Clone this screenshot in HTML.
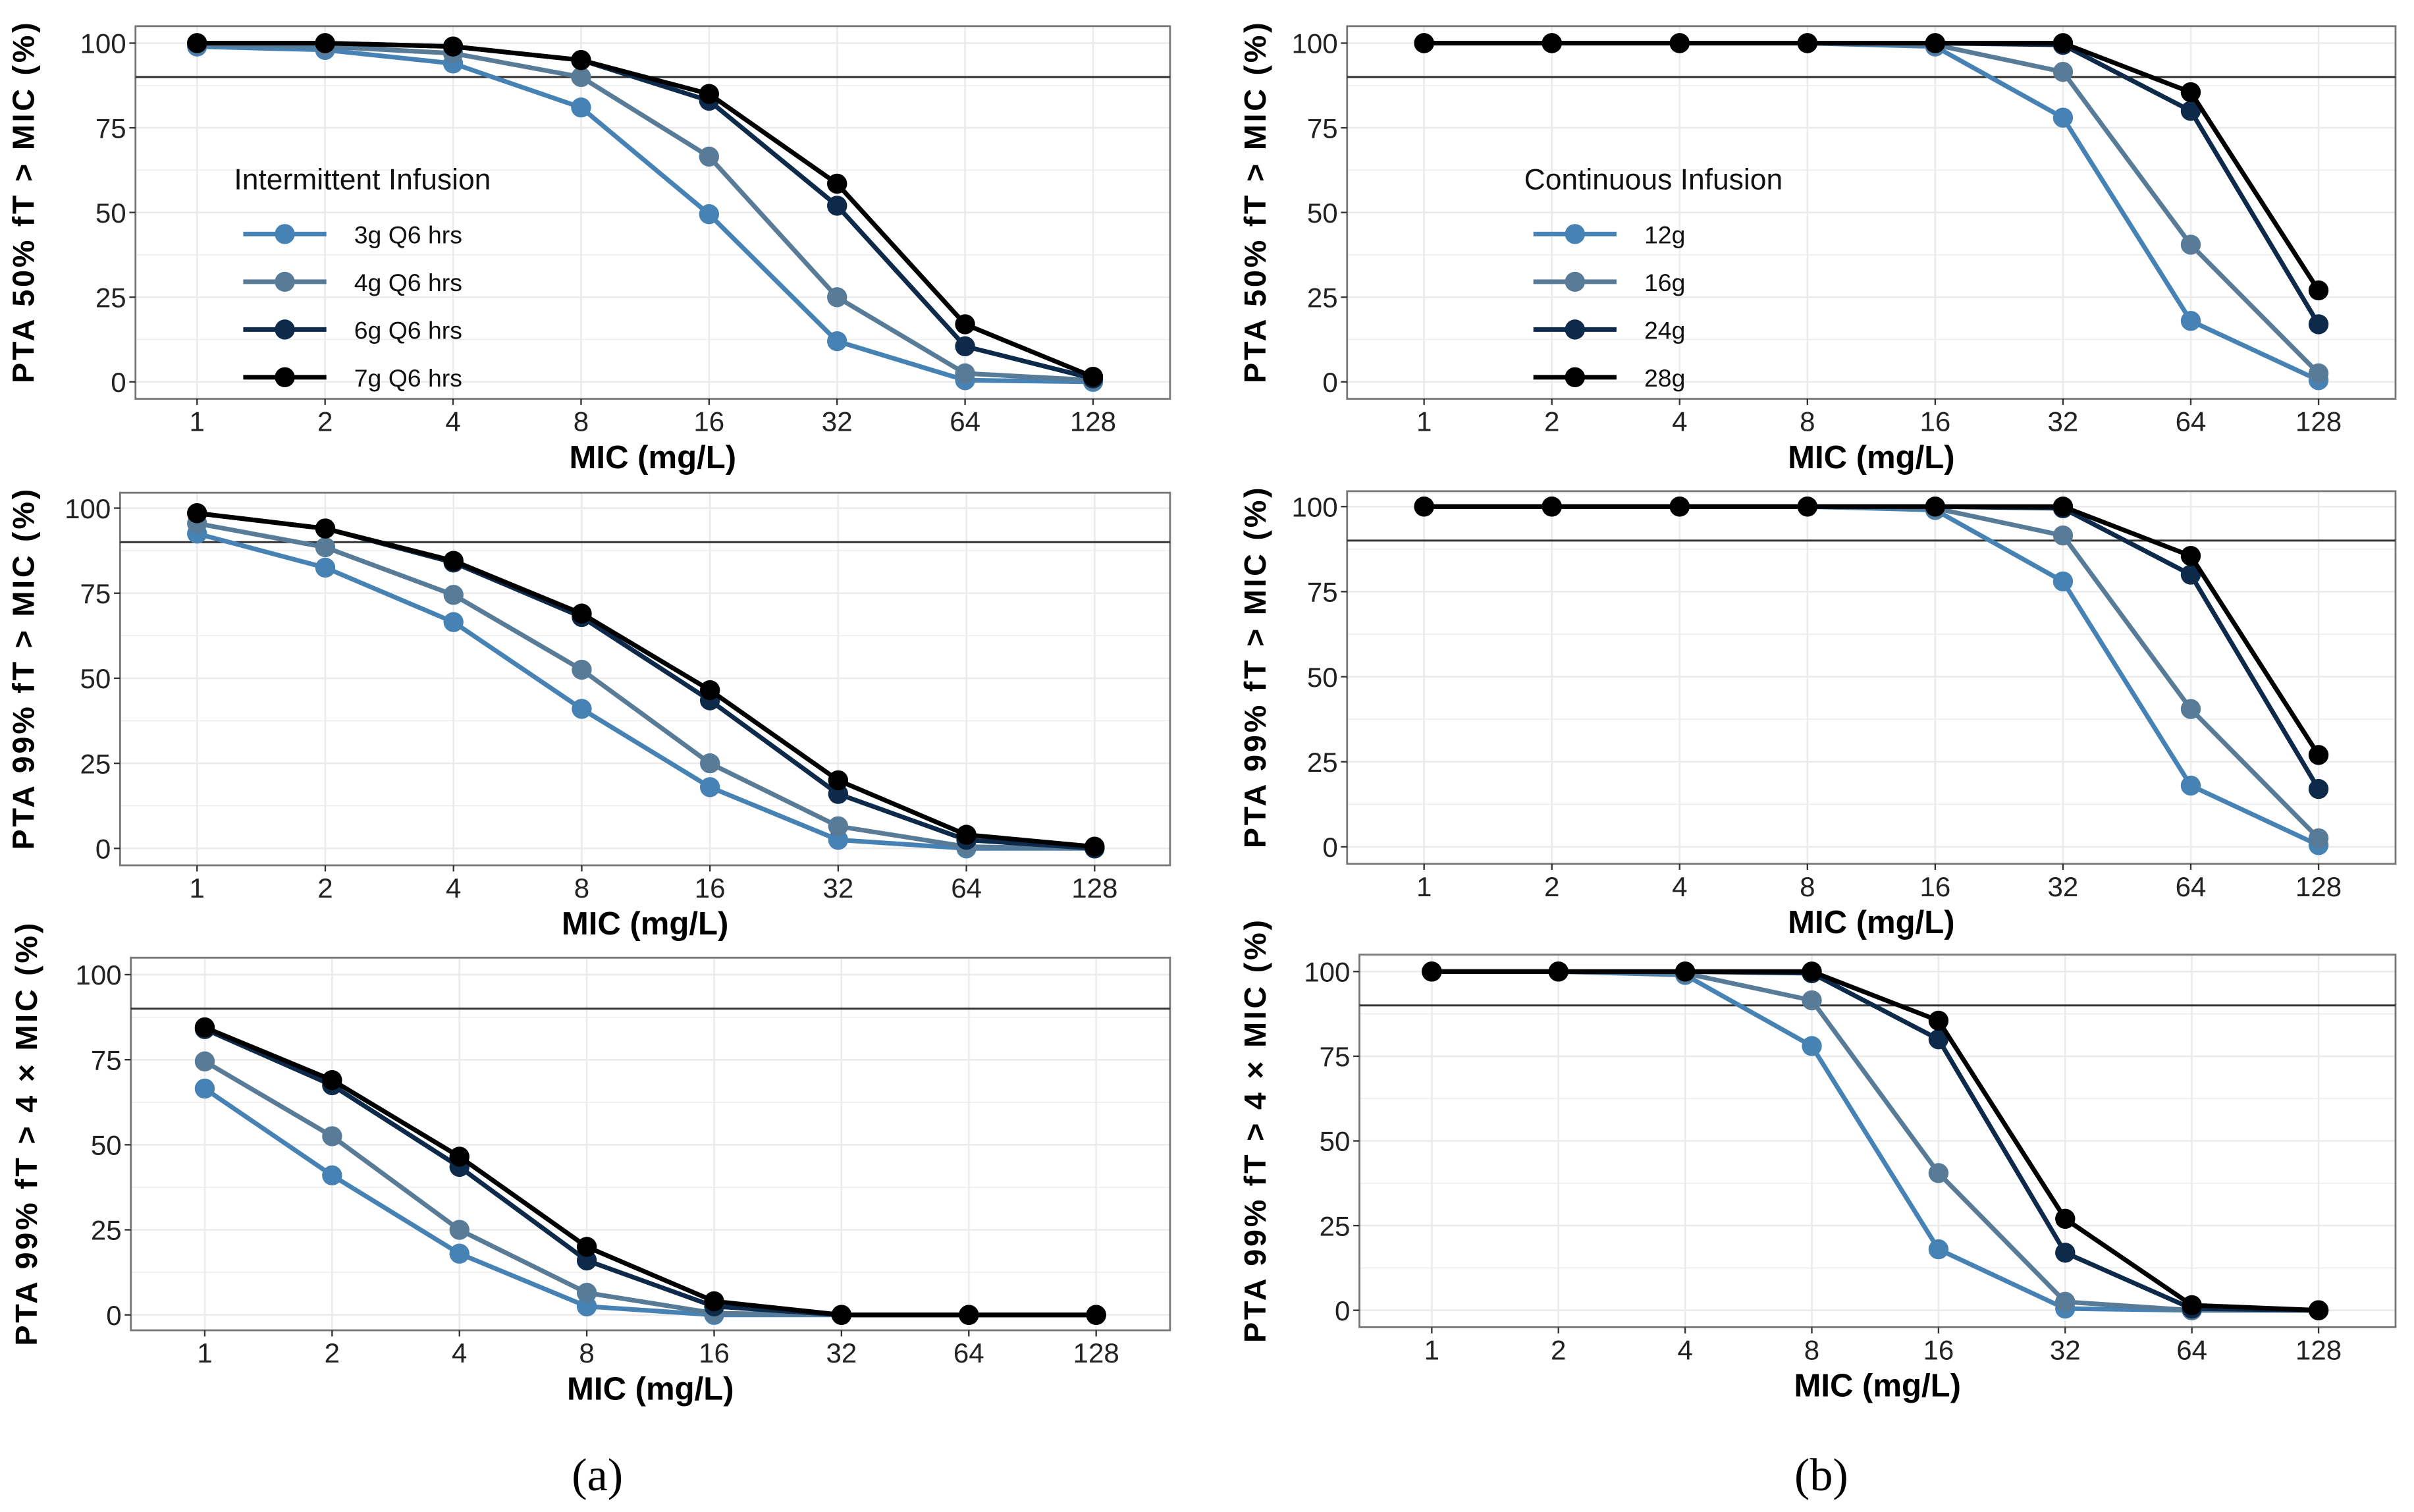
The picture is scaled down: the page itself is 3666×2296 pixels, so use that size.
<!DOCTYPE html>
<html><head><meta charset="utf-8"><style>
html,body{margin:0;padding:0;background:#fff;}
svg{display:block;}
text{font-family:"Liberation Sans",sans-serif;}
text.serif{font-family:"Liberation Serif",serif;}
</style></head><body>
<svg id="fig" width="3666" height="2296" viewBox="0 0 1568 982" xmlns="http://www.w3.org/2000/svg"></svg>
<script>
const micLabels = ["1","2","4","8","16","32","64","128"];
const yTicks = [0,25,50,75,100];
const intermittentNames = ["3g Q6 hrs","4g Q6 hrs","6g Q6 hrs","7g Q6 hrs"];
const continuousNames = ["12g","16g","24g","28g"];
const seriesColors = ["#4682b4","#587b98","#0e2a4a","#000000"];
const targetLine = 90;
// Panel (a) data
const a50_3g = [99,98,94,81,49.5,12,0.5,0];
const a50_4g = [99.5,99,97,90,66.5,25,2.5,0.5];
const a50_6g = [100,100,99,95,83,52,10.5,1];
const a50_7g = [100,100,99,95,85,58.5,17,1.5];
const a99_3g = [92.5,82.5,66.5,41,18,2.5,0,0];
const a99_4g = [95.5,88.5,74.5,52.5,25,6.5,0.5,0];
const a99_6g = [98.5,94,84,68,43.5,16,2.5,0];
const a99_7g = [98.5,94,84.5,69,46.5,20,4,0.5];
const a4x_3g = [66.5,41,18,2.5,0,0,0,0];
const a4x_4g = [74.5,52.5,25,6.5,0.5,0,0,0];
const a4x_6g = [84,67.5,43.5,16,2.5,0,0,0];
const a4x_7g = [84.5,69,46.5,20,4,0,0,0];
// Panel (b) data
const b50_12 = [100,100,100,100,99,78,18,0.5];
const b50_16 = [100,100,100,100,99.5,91.5,40.5,2.5];
const b50_24 = [100,100,100,100,100,99.5,80,17];
const b50_28 = [100,100,100,100,100,100,85.5,27];
const b99_12 = [100,100,100,100,99,78,18,0.5];
const b99_16 = [100,100,100,100,99.5,91.5,40.5,2.5];
const b99_24 = [100,100,100,100,100,99.5,80,17];
const b99_28 = [100,100,100,100,100,100,85.5,27];
const b4x_12 = [100,100,99,78,18,0.5,0,0];
const b4x_16 = [100,100,99.5,91.5,40.5,2.5,0,0];
const b4x_24 = [100,100,100,99.5,80,17,0.5,0];
const b4x_28 = [100,100,100,100,85.5,27,1.5,0];

const NS="http://www.w3.org/2000/svg";
const svg=document.getElementById('fig');
function el(tag,attrs,parent,txt){const e=document.createElementNS(NS,tag);for(const k in attrs)e.setAttribute(k,attrs[k]);if(txt!==undefined)e.textContent=txt;(parent||svg).appendChild(e);return e;}

const panels=[
 {id:'a-50',L:88,R:760,T:17,B:259,x1:128,x128:710,y100:28,y0:248,ytx:22,title:"PTA 50% fT > MIC (%)",series:[a50_3g,a50_4g,a50_6g,a50_7g],names:intermittentNames,legend:{x:152,title:"Intermittent Infusion"}},
 {id:'a-99',L:78,R:760,T:320,B:562,x1:128,x128:711,y100:330,y0:551,ytx:22,title:"PTA 99% fT > MIC (%)",series:[a99_3g,a99_4g,a99_6g,a99_7g],names:intermittentNames},
 {id:'a-4x',L:85,R:760,T:622,B:864,x1:133,x128:712,y100:633,y0:854,ytx:24,title:"PTA 99% fT > 4 × MIC (%)",series:[a4x_3g,a4x_4g,a4x_6g,a4x_7g],names:intermittentNames},
 {id:'b-50',L:875,R:1556,T:17,B:259,x1:925,x128:1506,y100:28,y0:248,ytx:822,title:"PTA 50% fT > MIC (%)",series:[b50_12,b50_16,b50_24,b50_28],names:continuousNames,legend:{x:990,title:"Continuous Infusion"}},
 {id:'b-99',L:875,R:1556,T:319,B:561,x1:925,x128:1506,y100:329,y0:550,ytx:822,title:"PTA 99% fT > MIC (%)",series:[b99_12,b99_16,b99_24,b99_28],names:continuousNames},
 {id:'b-4x',L:883,R:1556,T:620,B:862,x1:930,x128:1506,y100:631,y0:851,ytx:822,title:"PTA 99% fT > 4 × MIC (%)",series:[b4x_12,b4x_16,b4x_24,b4x_28],names:continuousNames}
];

panels.forEach(p=>{
 const g=el('g',{});
 
 
 const xs=i=>p.x1+(p.x128-p.x1)*i/(micLabels.length-1);
 const ys=v=>p.y0+(p.y100-p.y0)*v/100;
 const grid=el('g',{},g);
 
 
 for(let v=-12.5;v<=112.5;v+=12.5){const y=ys(v);if(y>p.T&&y<p.B)el('line',{x1:p.L,x2:p.R,y1:y,y2:y,stroke:'#ebebeb','stroke-width':v%25===0?1.1:0.6},grid);}
 micLabels.forEach((m,i)=>{const x=xs(i);el('line',{x1:x,x2:x,y1:p.T,y2:p.B,stroke:'#ebebeb','stroke-width':1.1},grid);});
 const fr=el('rect',{x:p.L,y:p.T,width:p.R-p.L,height:p.B-p.T,fill:'none',stroke:'#777','stroke-width':1.2},g);
 
 
 const rl=el('line',{x1:p.L,x2:p.R,y1:ys(targetLine),y2:ys(targetLine),stroke:'#333','stroke-width':1.3},g);
 
 
 yTicks.forEach(v=>{const y=ys(v);
  el('line',{x1:p.L-4,x2:p.L,y1:y,y2:y,stroke:'#333','stroke-width':1},g);
  const t=el('text',{x:p.L-6,y:y+6.5,'text-anchor':'end','font-size':18,fill:'#222'},g,String(v));
  
  
 });
 micLabels.forEach((m,i)=>{const x=xs(i);
  el('line',{x1:x,x2:x,y1:p.B,y2:p.B+4,stroke:'#333','stroke-width':1},g);
  const t=el('text',{x:x,y:p.B+21,'text-anchor':'middle','font-size':18,fill:'#222'},g,m);
  
  
 });
 const xt=el('text',{x:(p.L+p.R)/2,y:p.B+45,'text-anchor':'middle','font-size':21,'font-weight':'bold',fill:'#000'},g,"MIC (mg/L)");
 
 
 const cy=(p.T+p.B)/2;
 const yt=el('text',{x:p.ytx+7,y:cy,'text-anchor':'middle','font-size':20,'font-weight':'bold','letter-spacing':1.6,fill:'#000',transform:`rotate(-90 ${p.ytx} ${cy})`},g,p.title);
 
 
 p.series.forEach((arr,si)=>{
  const sg=el('g',{},g);
  
  
  const pts=arr.map((v,i)=>xs(i)+','+ys(v)).join(' ');
  el('polyline',{points:pts,fill:'none',stroke:seriesColors[si],'stroke-width':3,'stroke-linejoin':'round'},sg);
  arr.forEach((v,i)=>{const c=el('circle',{cx:xs(i),cy:ys(v),r:6.5,fill:seriesColors[si]},sg);
   
   });
 });
 if(p.legend){
  const lg=el('g',{},g);
  
  
  el('text',{x:p.legend.x,y:123,'font-size':19,fill:'#111'},lg,p.legend.title);
  p.names.forEach((n,si)=>{const y=152+si*31;
   const e=el('g',{},lg);
   
   
   el('line',{x1:p.legend.x+6,x2:p.legend.x+60,y1:y,y2:y,stroke:seriesColors[si],'stroke-width':3},e);
   el('circle',{cx:p.legend.x+33,cy:y,r:6.5,fill:seriesColors[si]},e);
   el('text',{x:p.legend.x+78,y:y+6,'font-size':16,fill:'#111'},e,n);
  });
 }
});
const ca=el('text',{x:388,y:968,'text-anchor':'middle','font-size':30,class:'serif',fill:'#000'},svg,"(a)");


const cb=el('text',{x:1183,y:968,'text-anchor':'middle','font-size':30,class:'serif',fill:'#000'},svg,"(b)");


</script>
</body></html>
